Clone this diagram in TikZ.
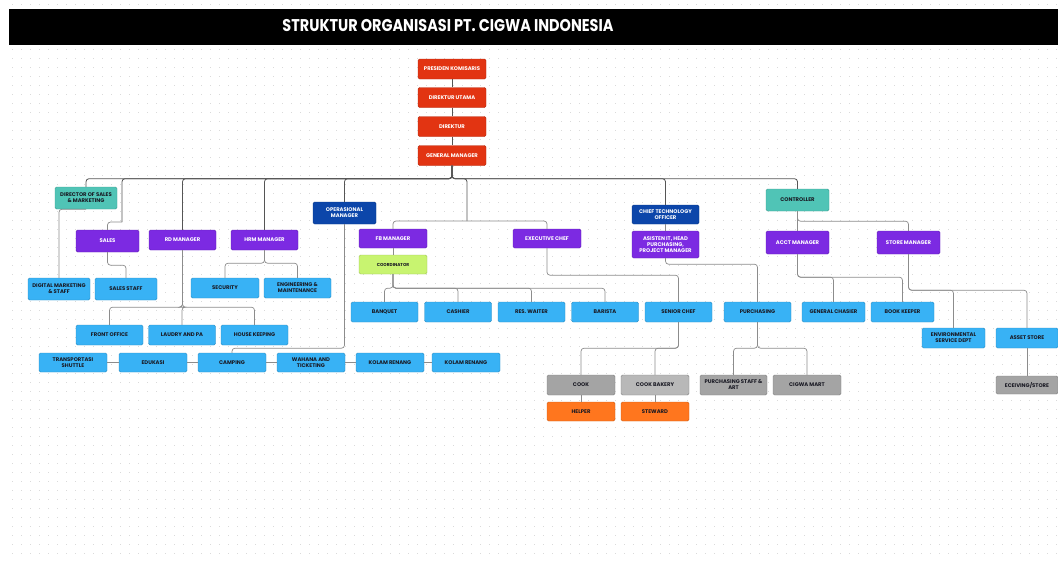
\documentclass[tikz,border=0pt]{standalone}
\usepackage{fontspec}
\setmainfont{Poppins}
\newfontfamily\titlefont[FakeStretch=0.85]{Poppins}
\definecolor{topred}{RGB}{226,52,18}
\definecolor{mgrpurple}{RGB}{124,42,226}
\definecolor{navy}{RGB}{12,70,170}
\definecolor{tealc}{RGB}{80,196,182}
\definecolor{skyc}{RGB}{56,178,245}
\definecolor{limec}{RGB}{200,244,112}
\definecolor{greyc}{RGB}{164,164,164}
\definecolor{greyl}{RGB}{184,184,184}
\definecolor{orangec}{RGB}{255,118,30}
\definecolor{linec}{RGB}{140,140,140}
\definecolor{busc}{RGB}{85,85,85}
\definecolor{dotc}{RGB}{218,218,218}
\definecolor{inkc}{RGB}{25,25,35}
\tikzset{elbow/.style={to path={-- ++(0,#1) -| (\tikztotarget)}}}
\begin{document}
\begin{tikzpicture}[x=1pt,y=-1pt,
    unit/.style={rounded corners=1.5pt, minimum width=67pt, minimum height=20pt,
      inner sep=1pt, align=center, draw=#1!80!black, line width=0.4pt, fill=#1,
      font=\fontsize{5.3}{6.1}\selectfont\bfseries},
    redbox/.style={unit=topred, text=white, minimum width=68pt},
    purplebox/.style={unit=mgrpurple, text=white},
    navybox/.style={unit=navy, text=white},
    tealbox/.style={unit=tealc, text=inkc, minimum width=63pt, minimum height=22pt},
    bluebox/.style={unit=skyc, text=inkc},
    greybox/.style={unit=greyc, text=inkc, minimum width=68pt},
    orangebox/.style={unit=orangec, text=inkc, minimum width=68pt, minimum height=19pt},
    link/.style={draw=linec, line width=0.7pt, rounded corners=3pt},
    bus/.style={draw=busc, line width=0.8pt, rounded corners=3pt}]
\useasboundingbox (0,0) rectangle (1058,562);
% dotted canvas and title bar
\foreach \y in {4,13,...,562}
  \draw[dotc, line width=0.9pt, dash pattern=on 0.9pt off 8.1pt] (12,\y) -- (1058,\y);
\fill[black] (9,9) rectangle (1058,45);
\node[text=white, font=\titlefont\fontsize{17}{19}\selectfont\bfseries] (title) at (448,26)
  {STRUKTUR ORGANISASI PT. CIGWA INDONESIA};

% top management
\node[redbox] (pk) at (452,69) {PRESIDEN KOMISARIS};
\node[redbox] (du) at (452,97.5) {DIREKTUR UTAMA};
\node[redbox] (dir) at (452,126.5) {DIREKTUR};
\node[redbox] (gm) at (452,155.5) {GENERAL MANAGER};

% second level
\node[tealbox, minimum width=62pt] (dos) at (86,198) {DIRECTOR OF SALES\\\& MARKETING};
\node[purplebox, minimum width=63pt, minimum height=22pt] (sales) at (107.5,241) {SALES};
\node[purplebox] (rd) at (182.5,240) {RD MANAGER};
\node[purplebox] (hrm) at (264.5,240) {HRM MANAGER};
\node[navybox, minimum width=63pt, minimum height=22pt] (opm) at (344.5,213) {OPERASIONAL\\MANAGER};
\node[purplebox, minimum width=68pt, minimum height=19pt] (fbm) at (393,238.5) {FB MANAGER};
\node[unit=limec, text=inkc, minimum width=68pt, minimum height=19pt,
  font=\fontsize{4.3}{5}\selectfont\bfseries] (coord) at (393,264.5) {COORDINATOR};
\node[purplebox, minimum width=68pt, minimum height=19pt] (exc) at (547,238.5) {EXECUTIVE CHEF};
\node[navybox, minimum height=19pt] (cto) at (665.5,214.5) {CHIEF TECHNOLOGY\\OFFICER};
\node[purplebox, minimum height=27pt] (asis) at (665.5,244.5) {ASISTEN IT, HEAD\\PURCHASING,\\PROJECT MANAGER};
\node[tealbox] (ctrl) at (797.5,200) {CONTROLLER};
\node[purplebox, minimum width=63pt, minimum height=23pt] (acct) at (797.5,242.5) {ACCT MANAGER};
\node[purplebox, minimum width=63pt, minimum height=23pt] (store) at (908.5,242.5) {STORE MANAGER};

% staff
\node[bluebox, minimum width=62pt, minimum height=22pt] (dms) at (59,289) {DIGITAL MARKETING\\\& STAFF};
\node[bluebox, minimum width=62pt, minimum height=22pt] (sstaff) at (126,289) {SALES STAFF};
\node[bluebox, minimum width=68pt] (sec) at (225,288) {SECURITY};
\node[bluebox] (eng) at (297.5,288) {ENGINEERING \&\\MAINTENANCE};
\node[bluebox] (fo) at (109.5,335) {FRONT OFFICE};
\node[bluebox] (lpa) at (182,335) {LAUDRY AND PA};
\node[bluebox] (hk) at (254.5,335) {HOUSE KEEPING};
\node[bluebox, minimum width=68pt, minimum height=19pt] (trs) at (73,362.5) {TRANSPORTASI\\SHUTTLE};
\node[bluebox, minimum width=68pt, minimum height=19pt] (edu) at (153,362.5) {EDUKASI};
\node[bluebox, minimum width=68pt, minimum height=19pt] (camp) at (232,362.5) {CAMPING};
\node[bluebox, minimum width=68pt, minimum height=19pt] (wah) at (311,362.5) {WAHANA AND\\TICKETING};
\node[bluebox, minimum width=68pt, minimum height=19pt] (kra) at (390,362.5) {KOLAM RENANG};
\node[bluebox, minimum width=68pt, minimum height=19pt] (krb) at (466,362.5) {KOLAM RENANG};
\node[bluebox] (banq) at (384.5,312) {BANQUET};
\node[bluebox] (cash) at (458,312) {CASHIER};
\node[bluebox] (resw) at (531.5,312) {RES. WAITER};
\node[bluebox] (bar) at (605,312) {BARISTA};
\node[bluebox] (sc) at (678.5,312) {SENIOR CHEF};
\node[bluebox] (pur) at (757.5,312) {PURCHASING};
\node[bluebox, minimum width=63pt] (gch) at (833.5,312) {GENERAL CHASIER};
\node[bluebox, minimum width=63pt] (bk) at (902.5,312) {BOOK KEEPER};
\node[bluebox, minimum width=63pt] (env) at (953.5,338) {ENVIRONMENTAL\\SERVICE DEPT};
\node[bluebox, minimum width=62pt] (asset) at (1027,338) {ASSET STORE};
\node[greybox] (cook) at (581,385) {COOK};
\node[greybox, fill=greyl] (ckb) at (655,385) {COOK BAKERY};
\node[greybox, minimum width=67pt] (psa) at (733.5,385) {PURCHASING STAFF \&\\ART};
\node[greybox] (cmart) at (807,385) {CIGWA MART};
\node[greybox, minimum width=62pt, minimum height=18pt] (rcv) at (1027,385) {ECEIVING/STORE};
\node[orangebox] (helper) at (581,411.5) {HELPER};
\node[orangebox] (stew) at (655,411.5) {STEWARD};

% fork points
\coordinate (salesk) at (122,222);
\coordinate (fbe) at (467,221);

% connectors from the top
\draw[bus] (pk) -- (du) -- (dir) -- (gm);
\foreach \n in {dos,salesk,rd,hrm,opm,fbe,cto,ctrl}
  \draw[bus] (gm.south) to[elbow=13] (\n.north);
\draw[link] (salesk) -| (sales.north);
\draw[link] (fbm.north) |- (fbe) -| (exc.north);
\draw[link] (dos.south) -| (dms.north);
\draw[link] (sales.south) to[elbow=13] (sstaff.north);
\foreach \n in {fo,lpa,hk}
  \draw[link] (rd.south) to[elbow=57] (\n.north);
\foreach \n in {sec,eng}
  \draw[link] (hrm.south) to[elbow=13] (\n.north);
\draw[link] (opm.south) to[elbow=124] (camp.north);
\draw[link] (trs) -- (edu) -- (camp) -- (wah) -- (kra) -- (krb);
\draw[link] (fbm) -- (coord);
\foreach \n in {banq,cash,resw,bar}
  \draw[link] (coord.south) to[elbow=14] (\n.north);
\draw[link] (exc.south) to[elbow=27] (sc.north);
\foreach \n in {cook,ckb}
  \draw[link] (sc.south) to[elbow=26] (\n.north);
\draw[link] (cook) -- (helper);
\draw[link] (ckb) -- (stew);
\draw[link] (cto) -- (asis);
\draw[link] (asis.south) to[elbow=6] (pur.north);
\foreach \n in {psa,cmart}
  \draw[link] (pur.south) to[elbow=26] (\n.north);
\draw[link] (ctrl) -- (acct);
\draw[link] (ctrl.south) to[elbow=10] (store.north);
\foreach \n in {gch,bk}
  \draw[link] (acct.south) to[elbow=23] (\n.north);
\foreach \n in {env,asset}
  \draw[link] (store.south) to[elbow=36] (\n.north);
\draw[link] (asset) -- (rcv);
\end{tikzpicture}
\end{document}
